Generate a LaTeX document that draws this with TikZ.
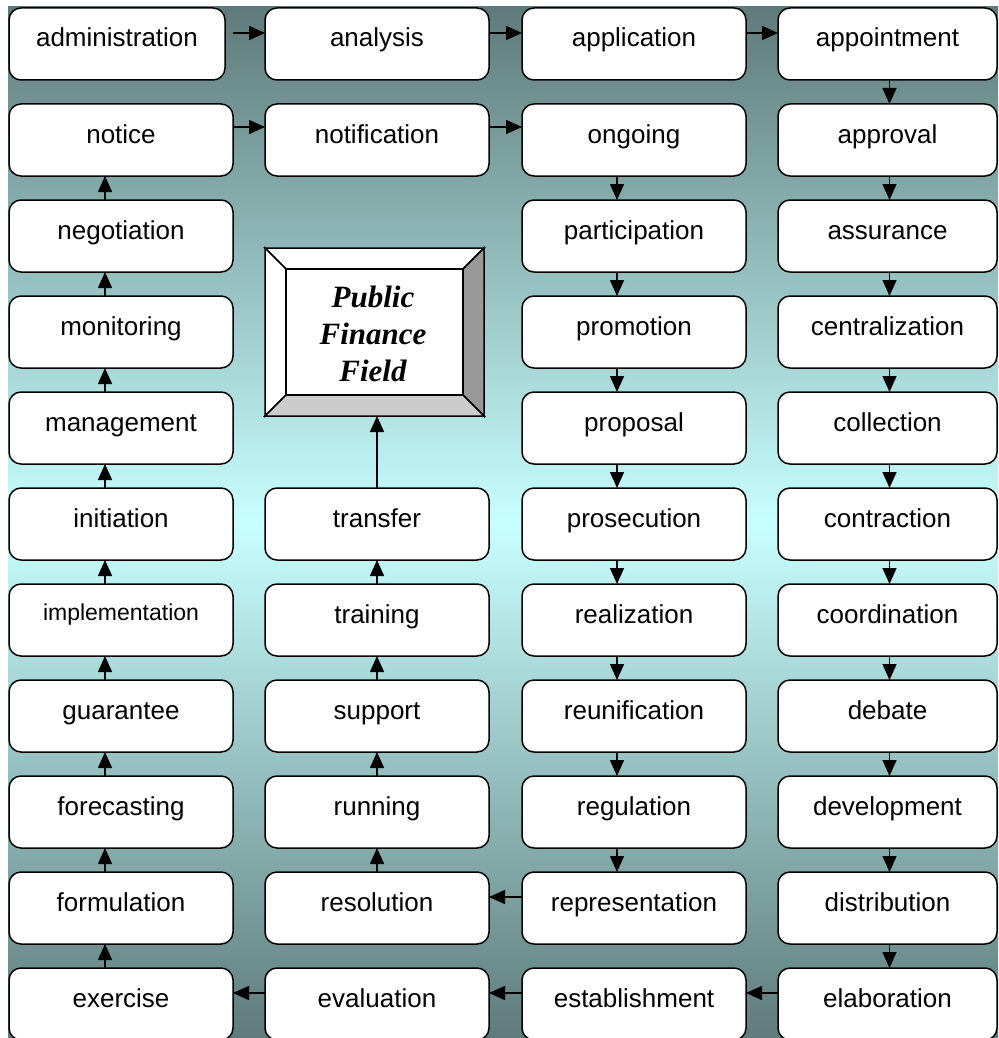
\documentclass[tikz,border=0pt]{standalone}
\usepackage{fontspec}
\setmainfont{Liberation Sans}
\newfontfamily\serifbi{Liberation Serif}
\usetikzlibrary{arrows.meta,calc}
\definecolor{bgdark}{RGB}{95,122,122}
\definecolor{bglight}{RGB}{200,255,255}
\definecolor{bevdark}{RGB}{153,153,153}
\definecolor{bevlight}{RGB}{204,204,204}
\tikzset{
  box/.style={draw, line width=1.5pt, rounded corners=12pt, fill=white,
    minimum width=224pt, inner sep=0pt, outer sep=0pt,
    text height=39pt, text depth=33pt, font=\fontsize{26}{31}\selectfont},
  col4/.style={minimum width=219pt},
  arr/.style={line width=1.5pt, -{Triangle[length=16pt,width=14pt]}},
  bevel/.style={draw, line width=1.5pt, line join=miter},
}
\begin{document}
\begin{tikzpicture}[x=1pt,y=-1pt]
\useasboundingbox (0,0) rectangle (998,1038);
\clip (0,0) rectangle (998,1038);
\shade[top color=bgdark, bottom color=bgdark, middle color=bglight] (8,7) rectangle (1000,1040);

% column 1
\node[box, minimum width=216pt] (adm) at (117,44) {administration};
\node[box] (notice) at (121,140) {notice};
\node[box] (negot) at (121,236) {negotiation};
\node[box] (monit) at (121,332) {monitoring};
\node[box] (manag) at (121,428) {management};
\node[box] (initi) at (121,524) {initiation};
\node[box, text height=36pt, text depth=36pt, font=\fontsize{23}{28}\selectfont] (implem) at (121,620) {implementation};
\node[box] (guara) at (121,716) {guarantee};
\node[box] (forec) at (121,812) {forecasting};
\node[box] (formu) at (121,908) {formulation};
\node[box] (exerc) at (121,1004) {exercise};

% column 2
\node[box] (analy) at (377,44) {analysis};
\node[box] (notif) at (377,140) {notification};
\node[box] (trans) at (377,524) {transfer};
\node[box] (train) at (377,620) {training};
\node[box] (suppo) at (377,716) {support};
\node[box] (runni) at (377,812) {running};
\node[box] (resol) at (377,908) {resolution};
\node[box] (evalu) at (377,1004) {evaluation};

% column 3
\node[box] (appli) at (634,44) {application};
\node[box] (ongoi) at (634,140) {ongoing};
\node[box] (parti) at (634,236) {participation};
\node[box] (promo) at (634,332) {promotion};
\node[box] (propo) at (634,428) {proposal};
\node[box] (prose) at (634,524) {prosecution};
\node[box] (reali) at (634,620) {realization};
\node[box] (reuni) at (634,716) {reunification};
\node[box] (regul) at (634,812) {regulation};
\node[box] (repre) at (634,908) {representation};
\node[box] (estab) at (634,1004) {establishment};

% column 4
\node[box,col4] (appoi) at (887.5,44) {appointment};
\node[box,col4] (appro) at (887.5,140) {approval};
\node[box,col4] (assur) at (887.5,236) {assurance};
\node[box,col4] (centr) at (887.5,332) {centralization};
\node[box,col4] (colle) at (887.5,428) {collection};
\node[box,col4] (contr) at (887.5,524) {contraction};
\node[box,col4] (coord) at (887.5,620) {coordination};
\node[box,col4] (debat) at (887.5,716) {debate};
\node[box,col4] (devel) at (887.5,812) {development};
\node[box,col4] (distr) at (887.5,908) {distribution};
\node[box,col4] (elabo) at (887.5,1004) {elaboration};

% central frame
\node[minimum width=219pt, minimum height=168pt, inner sep=0pt, outer sep=0pt] (pff) at (374.5,332) {};
\coordinate (inw) at ($(pff.north west)+(21,21)$);
\coordinate (ine) at ($(pff.north east)+(-21,21)$);
\coordinate (ise) at ($(pff.south east)+(-21,-21)$);
\coordinate (isw) at ($(pff.south west)+(21,-21)$);
\draw[bevel, fill=white] (pff.north west) -- (pff.north east) -- (ine) -- (inw) -- cycle;
\draw[bevel, fill=white] (pff.north west) -- (inw) -- (isw) -- (pff.south west) -- cycle;
\draw[bevel, fill=bevdark] (pff.north east) -- (pff.south east) -- (ise) -- (ine) -- cycle;
\draw[bevel, fill=bevlight] (pff.south west) -- (isw) -- (ise) -- (pff.south east) -- cycle;
\draw[bevel, fill=white] (inw) rectangle (ise);
\node[align=center, font=\serifbi\bfseries\itshape\fontsize{31}{37}\selectfont] (pfftxt) at ($(pff.center)+(-1.5,2)$) {Public\\Finance\\Field};

% row 1 rightward
\draw[arr] ($(adm.east)+(8,-11)$) -- ($(analy.west)+(0,-11)$);
\draw[arr] ($(analy.east)+(0,-11)$) -- ($(appli.west)+(0,-11)$);
\draw[arr] ($(appli.east)+(0,-11)$) -- ($(appoi.west)+(0,-11)$);
% column 4 down
\foreach \a/\b in {appoi/appro, appro/assur, assur/centr, centr/colle, colle/contr, contr/coord, coord/debat, debat/devel, devel/distr, distr/elabo}
  \draw[arr] ($(\a.south)+(2,0)$) -- ($(\b.north)+(2,0)$);
% row 11 leftward
\draw[arr] ($(elabo.west)+(0,-11)$) -- ($(estab.east)+(0,-11)$);
\draw[arr] ($(estab.west)+(0,-11)$) -- ($(evalu.east)+(0,-11)$);
\draw[arr] ($(evalu.west)+(0,-11)$) -- ($(exerc.east)+(0,-11)$);
% column 1 up
\foreach \a/\b in {exerc/formu, formu/forec, forec/guara, guara/implem, implem/initi, initi/manag, manag/monit, monit/negot, negot/notice}
  \draw[arr] ($(\a.north)+(-16,0)$) -- ($(\b.south)+(-16,0)$);
% row 2 rightward
\draw[arr] ($(notice.east)+(0,-13)$) -- ($(notif.west)+(0,-13)$);
\draw[arr] ($(notif.east)+(0,-13)$) -- ($(ongoi.west)+(0,-13)$);
% column 3 down
\foreach \a/\b in {ongoi/parti, parti/promo, promo/propo, propo/prose, prose/reali, reali/reuni, reuni/regul, regul/repre}
  \draw[arr] ($(\a.south)+(-17,0)$) -- ($(\b.north)+(-17,0)$);
% representation to resolution
\draw[arr] ($(repre.west)+(0,-11)$) -- ($(resol.east)+(0,-11)$);
% column 2 up
\foreach \a/\b in {resol/runni, runni/suppo, suppo/train, train/trans}
  \draw[arr] (\a.north) -- (\b.south);
\draw[arr] (trans.north) -- (trans.north |- pff.south);
\end{tikzpicture}
\end{document}
